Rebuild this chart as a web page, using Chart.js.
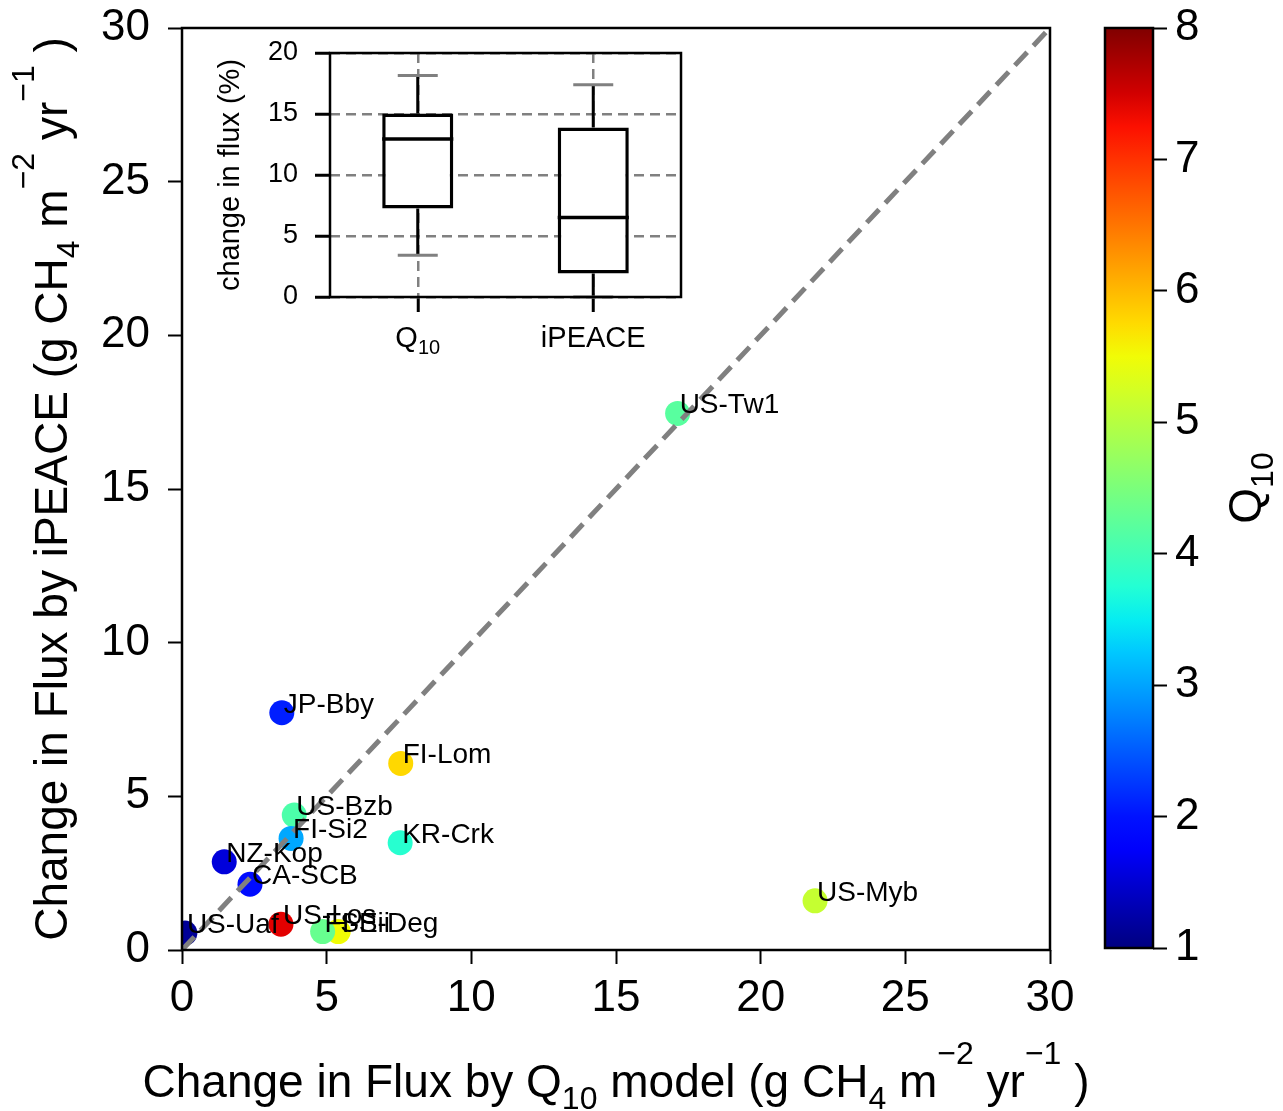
<!DOCTYPE html>
<html>
<head>
<meta charset="utf-8">
<script src="https://cdn.jsdelivr.net/npm/chart.js@4.4.0/dist/chart.umd.min.js"></script>
<style>
  body { margin: 0; background: #fff; }
  #wrap { position: relative; width: 1283px; height: 1111px; }
  canvas { position: absolute; }
</style>
</head>
<body>
<div id="wrap">
  <canvas id="main" width="1283" height="1111" style="left:0;top:0"></canvas>
  <canvas id="cbar" width="193" height="1111" style="left:1090px;top:0"></canvas>
  <canvas id="inset" width="490" height="340" style="left:210px;top:30px"></canvas>
</div>
<script>
// site data
const sites = ['US-Tw1', 'JP-Bby', 'FI-Lom', 'US-Bzb', 'FI-Si2', 'KR-Crk', 'NZ-Kop', 'CA-SCB', 'US-Myb', 'US-Uaf', 'US-Los', 'SE-Deg', 'FI-Sii'];
const fluxQ10 = [17.13, 3.45, 7.56, 3.88, 3.77, 7.54, 1.46, 2.35, 21.88, 0.1, 3.42, 5.4, 4.86];
const fluxIPEACE = [17.46, 7.72, 6.07, 4.39, 3.63, 3.49, 2.87, 2.14, 1.6, 0.55, 0.84, 0.6, 0.6];
const q10Values = [4.2, 2.08, 5.77, 4.1, 3.03, 3.78, 1.55, 1.95, 5.13, 1.14, 7.4, 5.5, 4.33];

const axisTicks = [0, 5, 10, 15, 20, 25, 30];
const oneToOne = [0, 30];

const cbarTicks = [1, 2, 3, 4, 5, 6, 7, 8];

// inset box plot (change in flux, %)
const boxCats = ['Q10', 'iPEACE'];
const boxQ1 = [7.26, 1.92];
const boxMed = [12.96, 6.52];
const boxQ3 = [15.05, 13.9];
const whiskLo = [3.42, 0];
const whiskHi = [18.16, 17.4];
const insetTicks = [0, 5, 10, 15, 20];

const FONT = '"Liberation Sans", Arial, sans-serif';
Chart.defaults.font.family = FONT;
Chart.defaults.color = '#000';

// matplotlib jet
function jet(v) {
  const t = Math.min(1, Math.max(0, (v - cbarTicks[0]) / (cbarTicks[cbarTicks.length - 1] - cbarTicks[0])));
  const seg = pts => {
    for (let i = 1; i < pts.length; i++) {
      if (t <= pts[i][0]) {
        const [x0, y0] = pts[i - 1], [x1, y1] = pts[i];
        return y0 + (y1 - y0) * (t - x0) / (x1 - x0);
      }
    }
    return pts[pts.length - 1][1];
  };
  const r = seg([[0, 0], [0.35, 0], [0.66, 1], [0.89, 1], [1, 0.5]]);
  const g = seg([[0, 0], [0.125, 0], [0.375, 1], [0.64, 1], [0.91, 0], [1, 0]]);
  const b = seg([[0, 0.5], [0.11, 1], [0.34, 1], [0.65, 0], [1, 0]]);
  return `rgb(${Math.round(r * 255)},${Math.round(g * 255)},${Math.round(b * 255)})`;
}

// text with sub/superscripts
function drawRich(ctx, parts, x, y, size, align) {
  const fontFor = p => (p[1] ? Math.round(size * 0.7) : size) + 'px ' + FONT;
  let w = 0;
  parts.forEach(p => { ctx.font = fontFor(p); w += ctx.measureText(p[0]).width; });
  let cx = align === 'center' ? x - w / 2 : x;
  ctx.textAlign = 'left';
  ctx.textBaseline = 'alphabetic';
  parts.forEach(p => {
    ctx.font = fontFor(p);
    const dy = p[1] === 'sub' ? size * 0.25 : p[1] === 'sup' ? -size * 0.72 : 0;
    ctx.fillText(p[0], cx, y + dy);
    cx += ctx.measureText(p[0]).width;
  });
}

// keep label overflow from pushing the plot area around
const noPadY = s => { s.paddingTop = 0; s.paddingBottom = 0; };
const noPadX = s => { s.paddingLeft = 0; s.paddingRight = 0; };

const xTitle = [['Change in Flux by Q', ''], ['10', 'sub'], [' model (g CH', ''], ['4', 'sub'], [' m', ''], ['\u22122', 'sup'], [' yr', ''], ['\u22121', 'sup'], [' )', '']];
const yTitle = [['Change in Flux by iPEACE (g CH', ''], ['4', 'sub'], [' m', ''], ['\u22122', 'sup'], [' yr', ''], ['\u22121', 'sup'], [' )', '']];

// ---------- main scatter ----------
const mainPlugin = {
  id: 'mainDecor',
  afterDatasetsDraw(chart) {
    const ctx = chart.ctx;
    const meta = chart.getDatasetMeta(0);
    ctx.save();
    ctx.font = '28px ' + FONT;
    ctx.fillStyle = '#000';
    ctx.textAlign = 'left';
    ctx.textBaseline = 'alphabetic';
    meta.data.forEach((pt, i) => ctx.fillText(sites[i], pt.x + 2, pt.y));
    ctx.restore();
  },
  afterDraw(chart) {
    const { ctx, chartArea: a } = chart;
    ctx.save();
    ctx.strokeStyle = '#000';
    ctx.lineWidth = 2.5;
    ctx.strokeRect(a.left, a.top, a.right - a.left, a.bottom - a.top);
    ctx.fillStyle = '#000';
    drawRich(ctx, xTitle, (a.left + a.right) / 2, 1097, 46, 'center');
    ctx.translate(67, (a.top + a.bottom) / 2);
    ctx.rotate(-Math.PI / 2);
    drawRich(ctx, yTitle, 0, 0, 46, 'center');
    ctx.restore();
  }
};

const tickFont = { size: 44, family: FONT };

new Chart(document.getElementById('main'), {
  data: {
    datasets: [
      {
        type: 'scatter',
        data: fluxQ10.map((v, i) => ({ x: v, y: fluxIPEACE[i] })),
        backgroundColor: q10Values.map(jet),
        borderWidth: 0,
        pointRadius: 12.5,
        pointHoverRadius: 12.5,
        clip: 0,
        order: 2
      },
      {
        type: 'line',
        data: oneToOne.map(v => ({ x: v, y: v })),
        borderColor: '#808080',
        borderWidth: 5,
        borderDash: [18, 9],
        pointRadius: 0,
        clip: 0,
        order: 1
      }
    ]
  },
  options: {
    responsive: false,
    animation: false,
    layout: { autoPadding: false, padding: { left: 0, top: 28, right: 233, bottom: 0 } },
    plugins: { legend: { display: false }, tooltip: { enabled: false } },
    scales: {
      x: {
        type: 'linear',
        min: 0, max: 30,
        afterBuildTicks: s => { s.ticks = axisTicks.map(v => ({ value: v })); },
        afterFit: s => { s.height = 161; noPadX(s); },
        ticks: { font: tickFont, color: '#000', padding: 8, maxRotation: 0 },
        grid: { drawOnChartArea: false, tickLength: 14, tickColor: '#000', tickWidth: 2 },
        border: { display: false }
      },
      y: {
        type: 'linear',
        min: 0, max: 30,
        afterBuildTicks: s => { s.ticks = axisTicks.map(v => ({ value: v })); },
        afterFit: s => { s.width = 182; noPadY(s); },
        ticks: { font: tickFont, color: '#000', padding: 18 },
        grid: { drawOnChartArea: false, tickLength: 14, tickColor: '#000', tickWidth: 2 },
        border: { display: false }
      }
    }
  },
  plugins: [mainPlugin]
});

// ---------- colorbar ----------
const cbarPlugin = {
  id: 'cbarDecor',
  afterDraw(chart) {
    const { ctx, chartArea: a } = chart;
    ctx.save();
    ctx.strokeStyle = '#000';
    ctx.lineWidth = 2.5;
    ctx.strokeRect(a.left, a.top, a.right - a.left, a.bottom - a.top);
    ctx.fillStyle = '#000';
    ctx.translate(171, (a.top + a.bottom) / 2);
    ctx.rotate(-Math.PI / 2);
    drawRich(ctx, [['Q', ''], ['10', 'sub']], 0, 0, 46, 'center');
    ctx.restore();
  }
};

new Chart(document.getElementById('cbar'), {
  type: 'bar',
  data: {
    labels: [''],
    datasets: [{
      data: [[cbarTicks[0], cbarTicks[cbarTicks.length - 1]]],
      backgroundColor: c => {
        const area = c.chart.chartArea;
        if (!area) return '#000';
        const g = c.chart.ctx.createLinearGradient(0, area.bottom, 0, area.top);
        for (let k = 0; k <= 28; k++) {
          g.addColorStop(k / 28, jet(cbarTicks[0] + (cbarTicks[cbarTicks.length - 1] - cbarTicks[0]) * k / 28));
        }
        return g;
      },
      borderWidth: 0,
      barPercentage: 1,
      categoryPercentage: 1
    }]
  },
  options: {
    responsive: false,
    animation: false,
    layout: { autoPadding: false, padding: { left: 15, top: 28, right: 0, bottom: 163 } },
    plugins: { legend: { display: false }, tooltip: { enabled: false } },
    scales: {
      x: { display: false },
      y: {
        position: 'right',
        min: cbarTicks[0], max: cbarTicks[cbarTicks.length - 1],
        afterBuildTicks: s => { s.ticks = cbarTicks.map(v => ({ value: v })); },
        afterFit: s => { s.width = 130; noPadY(s); },
        ticks: { font: tickFont, color: '#000', padding: 8 },
        grid: { drawOnChartArea: false, tickLength: 14, tickColor: '#000', tickWidth: 2 },
        border: { display: false }
      }
    }
  },
  plugins: [cbarPlugin]
});

// ---------- inset box plot ----------
const boxPlugin = {
  id: 'boxDecor',
  beforeDraw(chart) {
    const { ctx, chartArea: a } = chart;
    ctx.save();
    ctx.fillStyle = '#fff';
    ctx.fillRect(a.left, a.top, a.right - a.left, a.bottom - a.top);
    ctx.restore();
  },
  afterDatasetsDraw(chart) {
    const { ctx, scales: { x, y } } = chart;
    const meta = chart.getDatasetMeta(0);
    ctx.save();
    ctx.lineCap = 'butt';
    boxCats.forEach((c, i) => {
      const bar = meta.data[i];
      const cx = x.getPixelForValue(i);
      const half = bar.width / 2;
      ctx.strokeStyle = '#000';
      ctx.lineWidth = 3;
      ctx.beginPath();
      ctx.moveTo(cx, y.getPixelForValue(boxQ3[i]));
      ctx.lineTo(cx, y.getPixelForValue(whiskHi[i]));
      ctx.moveTo(cx, y.getPixelForValue(boxQ1[i]));
      ctx.lineTo(cx, y.getPixelForValue(whiskLo[i]));
      ctx.stroke();
      ctx.lineWidth = 3.5;
      ctx.beginPath();
      ctx.moveTo(cx - half, y.getPixelForValue(boxMed[i]));
      ctx.lineTo(cx + half, y.getPixelForValue(boxMed[i]));
      ctx.stroke();
      ctx.strokeStyle = '#808080';
      ctx.lineWidth = 3;
      ctx.beginPath();
      [whiskHi[i], whiskLo[i]].forEach(v => {
        ctx.moveTo(cx - 20, y.getPixelForValue(v));
        ctx.lineTo(cx + 20, y.getPixelForValue(v));
      });
      ctx.stroke();
    });
    ctx.restore();
  },
  afterDraw(chart) {
    const { ctx, chartArea: a, scales: { x } } = chart;
    ctx.save();
    ctx.strokeStyle = '#000';
    ctx.lineWidth = 2.5;
    ctx.strokeRect(a.left, a.top, a.right - a.left, a.bottom - a.top);
    ctx.fillStyle = '#000';
    const labels = [[['Q', ''], ['10', 'sub']], [['iPEACE', '']]];
    labels.forEach((parts, i) => drawRich(ctx, parts, x.getPixelForValue(i), 317, 29, 'center'));
    ctx.restore();
  }
};

new Chart(document.getElementById('inset'), {
  type: 'bar',
  data: {
    labels: boxCats,
    datasets: [{
      data: boxQ1.map((v, i) => [v, boxQ3[i]]),
      backgroundColor: '#fff',
      borderColor: '#000',
      borderWidth: 3.5,
      borderSkipped: false,
      barPercentage: 0.405,
      categoryPercentage: 1
    }]
  },
  options: {
    responsive: false,
    animation: false,
    layout: { autoPadding: false, padding: { left: 0, top: 23, right: 19, bottom: 0 } },
    plugins: { legend: { display: false }, tooltip: { enabled: false } },
    scales: {
      x: {
        afterFit: s => { s.height = 73; noPadX(s); },
        ticks: { callback: () => '' },
        grid: { offset: false, color: '#808080', lineWidth: 2.5, tickColor: '#000', tickLength: 15, tickWidth: 3 },
        border: { display: false, dash: [10, 6] }
      },
      y: {
        min: 0, max: 20,
        afterBuildTicks: s => { s.ticks = insetTicks.map(v => ({ value: v })); },
        afterFit: s => { s.width = 120; noPadY(s); },
        ticks: { font: { size: 27, family: FONT }, color: '#000', padding: 17 },
        grid: { color: '#808080', lineWidth: 2.5, tickColor: '#000', tickLength: 15, tickWidth: 3 },
        border: { display: false, dash: [10, 6] },
        title: { display: true, text: 'change in flux (%)', font: { size: 29, family: FONT }, color: '#000', padding: { top: 4, bottom: 0 } }
      }
    }
  },
  plugins: [boxPlugin]
});
</script>
</body>
</html>
